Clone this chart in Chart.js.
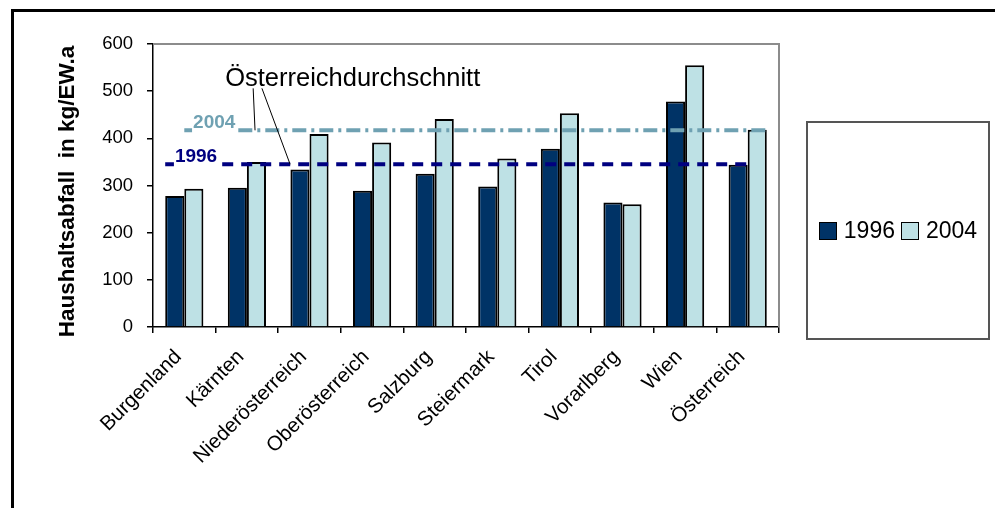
<!DOCTYPE html>
<html>
<head>
<meta charset="utf-8">
<script src="https://cdn.jsdelivr.net/npm/chart.js@4.4.1/dist/chart.umd.min.js"></script>
<style>
  html, body { margin: 0; padding: 0; background: #fff; overflow: hidden; }
  #wrap { position: relative; width: 995px; height: 508px; font-family: Arial, "Liberation Sans", sans-serif; }
  #frame { position: absolute; left: 11px; top: 9px; width: 1000px; height: 520px; border: 3px solid #000; box-sizing: border-box; }
  #legendBox { position: absolute; left: 806px; top: 121px; width: 184px; height: 219px; border: 2px solid #555; box-sizing: border-box;
    display: flex; align-items: center; justify-content: center; font-size: 23px; color: #000; white-space: nowrap; }
  .lg { display: inline-flex; align-items: center; margin-right: 6px; }
  .lg:last-child { margin-right: 0; }
  .sw { width: 16px; height: 16px; border: 1.5px solid #000; margin-right: 7px; }
  canvas { position: absolute; left: 0; top: 0; }
</style>
</head>
<body>
<div id="wrap">
  <div id="frame"></div>
  <canvas id="chart" width="995" height="508"></canvas>
  <div id="legendBox"></div>
</div>
<script>
// ===== DATA =====
const regions = ['Burgenland', 'Kärnten', 'Niederösterreich', 'Oberösterreich', 'Salzburg',
                 'Steiermark', 'Tirol', 'Vorarlberg', 'Wien', 'Österreich'];
const values1996 = [278, 295, 334, 289, 325, 298, 378, 264, 478, 344];
const values2004 = [293, 350, 409, 391, 441, 357, 453, 260, 555, 418];
const avg1996 = 345;
const avg2004 = 417;
const yTicks = [0, 100, 200, 300, 400, 500, 600];

const col1996 = '#003366';
const col2004 = '#BEE1E5';
const line1996 = '#000080';
const line2004 = '#6FA1B2';

const FONT = 'Arial, "Liberation Sans", sans-serif';

// ===== PLUGINS =====
const plotFrame = {
    id: 'plotFrame',
    beforeDatasetsDraw(chart) {
        const { ctx, chartArea: a } = chart;
        ctx.save();
        ctx.strokeStyle = '#8c8c8c';
        ctx.lineWidth = 2;
        ctx.beginPath();
        ctx.moveTo(a.left, a.top);
        ctx.lineTo(a.right, a.top);
        ctx.lineTo(a.right, a.bottom);
        ctx.stroke();
        ctx.restore();
    }
};

const avgLines = {
    id: 'avgLines',
    afterDatasetsDraw(chart) {
        const { ctx } = chart;
        const y = chart.scales.y, x = chart.scales.x;
        const span = (i) => {
            const bars = chart.getDatasetMeta(i).data;
            const f = bars[0], l = bars[bars.length - 1];
            return [f.x - f.width / 2, l.x + l.width / 2];
        };
        const drawLine = (i, val, color, dash, label, labelIdx) => {
            const [x0, x1] = span(i);
            const py = y.getPixelForValue(val);
            ctx.save();
            ctx.strokeStyle = color;
            ctx.lineWidth = 4;
            ctx.setLineDash(dash);
            ctx.beginPath();
            ctx.moveTo(x0, py);
            ctx.lineTo(x1, py);
            ctx.stroke();
            ctx.setLineDash([]);
            // label with white backing over the line
            ctx.font = 'bold 19px ' + FONT;
            const tx = x.getPixelForValue(labelIdx);
            const w = ctx.measureText(label).width;
            ctx.fillStyle = '#fff';
            ctx.fillRect(tx - 1, py - 16, w + 2, 19);
            ctx.fillStyle = color;
            ctx.textBaseline = 'alphabetic';
            ctx.fillText(label, tx, py - 2);
            ctx.restore();
        };
        drawLine(1, avg2004, line2004, [14, 5, 3, 5], '2004', 0.14);
        drawLine(0, avg1996, line1996, [11, 8], '1996', -0.15);

        // annotation text + leader lines
        ctx.save();
        ctx.font = '25.5px ' + FONT;
        ctx.fillStyle = '#000';
        ctx.textAlign = 'center';
        ctx.fillText('Österreichdurchschnitt', x.getPixelForValue(2.69), y.getPixelForValue(511));
        ctx.strokeStyle = '#000';
        ctx.lineWidth = 1;
        ctx.beginPath();
        ctx.moveTo(x.getPixelForValue(1.10), y.getPixelForValue(506));
        ctx.lineTo(x.getPixelForValue(1.13), y.getPixelForValue(avg2004));
        ctx.moveTo(x.getPixelForValue(1.24), y.getPixelForValue(506));
        ctx.lineTo(x.getPixelForValue(1.69), y.getPixelForValue(avg1996));
        ctx.stroke();
        ctx.restore();
    }
};

// y axis title drawn by hand: in the reference it sits a bit below the axis middle
const yTitle = {
    id: 'yTitle',
    afterDraw(chart) {
        const { ctx, chartArea: a } = chart;
        ctx.save();
        ctx.translate(68, (a.top + a.bottom) / 2 + 6);
        ctx.rotate(-Math.PI / 2);
        ctx.font = 'bold 22.5px ' + FONT;
        ctx.fillStyle = '#000';
        ctx.textAlign = 'center';
        ctx.textBaseline = 'middle';
        ctx.fillText('Haushaltsabfall  in kg/EW.a', 0, 0);
        ctx.restore();
    }
};

// ===== CHART =====
const chart = new Chart(document.getElementById('chart'), {
    type: 'bar',
    data: {
        labels: regions,
        datasets: [
            { label: '1996', data: values1996, backgroundColor: col1996, borderColor: '#000', borderWidth: 2,
              categoryPercentage: 0.61, barPercentage: 1.0 },
            { label: '2004', data: values2004, backgroundColor: col2004, borderColor: '#000', borderWidth: 2,
              categoryPercentage: 0.61, barPercentage: 1.0 }
        ]
    },
    options: {
        responsive: false,
        animation: false,
        devicePixelRatio: 1,
        layout: { padding: { left: 48, right: 216, top: 44, bottom: 0 } },
        plugins: { legend: { display: false }, tooltip: { enabled: false } },
        scales: {
            y: {
                min: 0, max: 600,
                afterBuildTicks: s => { s.ticks = yTicks.map(v => ({ value: v })); },
                afterFit: s => { s.width = 153 - 48; },
                ticks: { color: '#000', padding: 14, font: { family: FONT, size: 18.5 } },
                grid: { drawOnChartArea: false, tickLength: 6, color: '#000', lineWidth: 1.5 },
                border: { color: '#000', width: 1.5 }
            },
            x: {
                afterFit: s => { s.height = 508 - 327; },
                ticks: { color: '#000', minRotation: 45, maxRotation: 45, padding: 12, labelOffset: -6,
                         font: { family: FONT, size: 20.5 } },
                grid: { drawOnChartArea: false, tickLength: 6, color: '#000', lineWidth: 1.5, offset: true },
                border: { color: '#000', width: 1.5 }
            }
        }
    },
    plugins: [plotFrame, avgLines, yTitle]
});

// ===== LEGEND =====
const lb = document.getElementById('legendBox');
lb.innerHTML = chart.data.datasets.map(d =>
    `<span class="lg"><span class="sw" style="background:${d.backgroundColor}"></span>${d.label}</span>`
).join('');
</script>
</body>
</html>
